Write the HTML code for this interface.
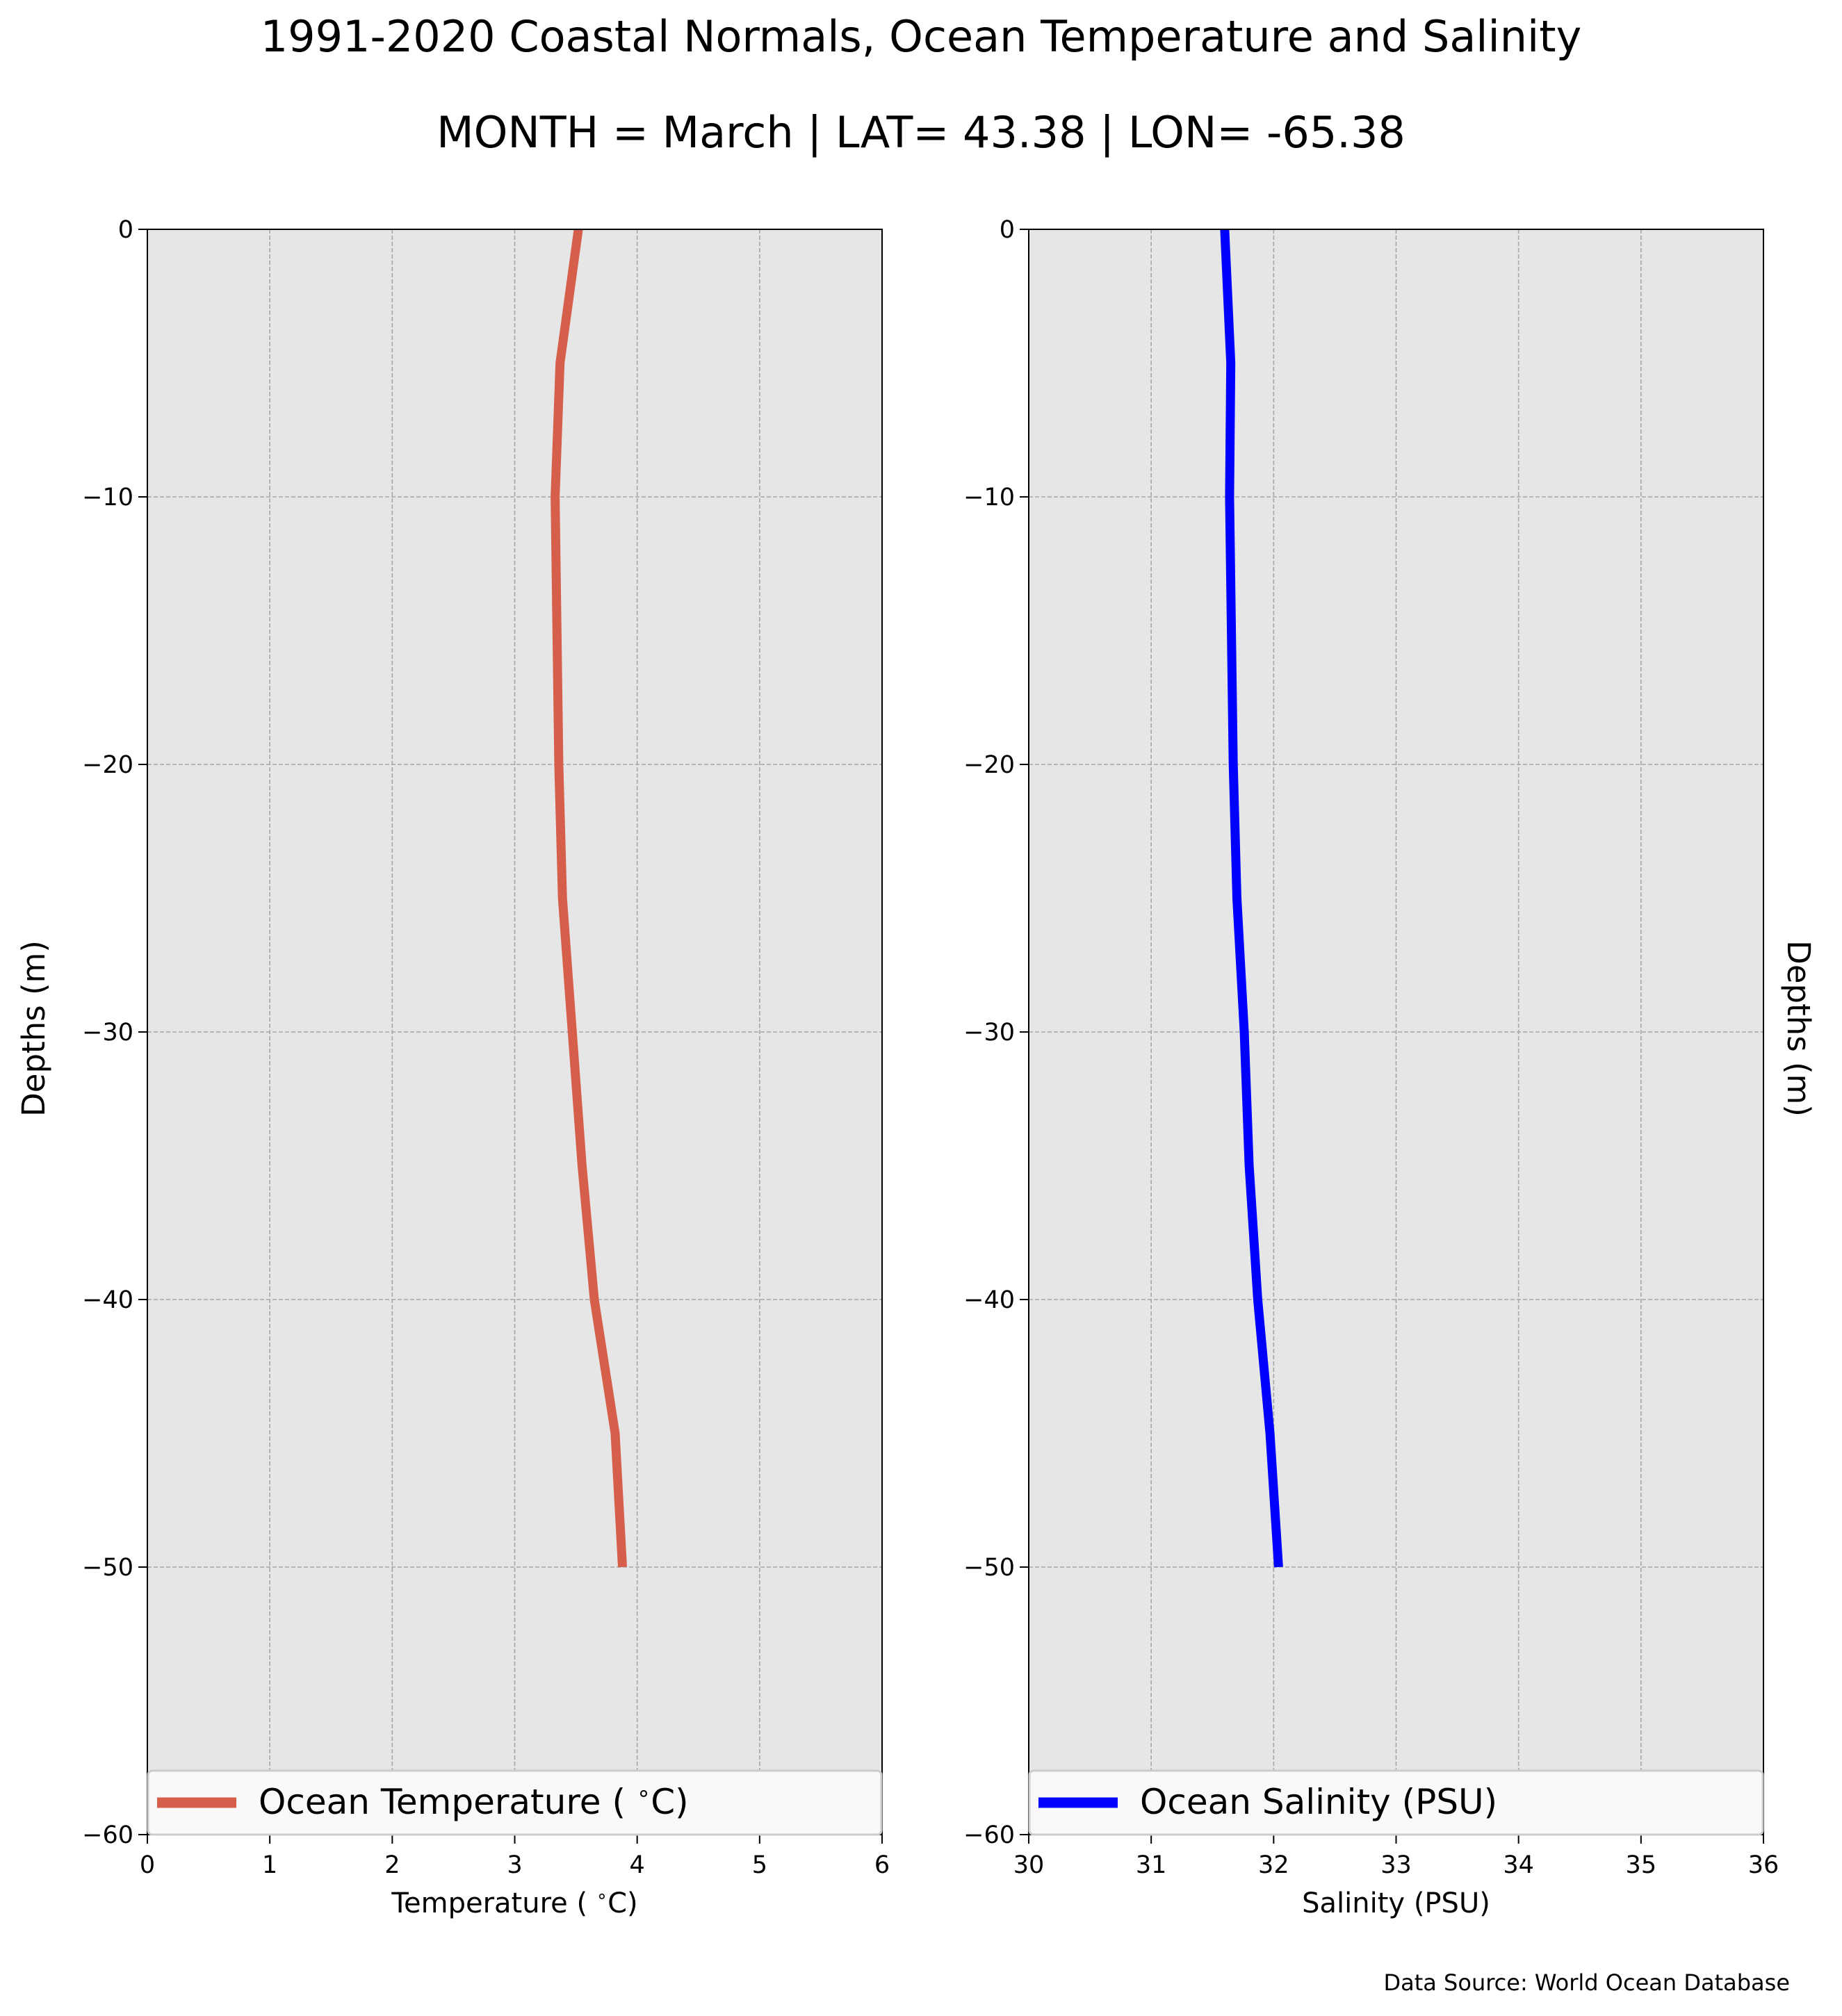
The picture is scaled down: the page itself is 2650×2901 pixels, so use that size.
<!DOCTYPE html>
<html><head><meta charset="utf-8"><style>
html,body{margin:0;padding:0;background:#fff;}
svg{display:block;font-family:"DejaVu Sans","Liberation Sans",sans-serif;}
</style></head><body>
<svg id="fig" width="2650" height="2901" viewBox="0 0 2650 2901" xmlns="http://www.w3.org/2000/svg">
<text x="1325" y="74" font-size="62" text-anchor="middle">1991-2020 Coastal Normals, Ocean Temperature and Salinity</text>
<text x="1325" y="212" font-size="62" text-anchor="middle">MONTH = March | LAT= 43.38 | LON= -65.38</text>
<g id="p1"></g>
<g id="p2"></g>
<text transform="translate(64,1480) rotate(-90)" font-size="45" text-anchor="middle">Depths (m)</text>
<text transform="translate(2572,1480) rotate(90)" font-size="45" text-anchor="middle">Depths (m)</text>
<text x="2575" y="2864" font-size="32" text-anchor="end">Data Source: World Ocean Database</text>
</svg>
<script>
const depths = [0, -5, -10, -20, -25, -30, -35, -40, -45, -50];
const temperature = [3.52, 3.37, 3.33, 3.36, 3.39, 3.47, 3.55, 3.65, 3.82, 3.88];
const salinity = [31.6, 31.65, 31.64, 31.67, 31.70, 31.76, 31.80, 31.87, 31.97, 32.04];
const tempTicks = [0, 1, 2, 3, 4, 5, 6];
const salTicks = [30, 31, 32, 33, 34, 35, 36];
const depthTicks = [0, -10, -20, -30, -40, -50, -60];

const NS = 'http://www.w3.org/2000/svg';
function mk(parent, tag, attrs, text) {
  const e = document.createElementNS(NS, tag);
  for (const k in attrs) e.setAttribute(k, attrs[k]);
  if (text !== undefined) e.textContent = text;
  parent.appendChild(e);
  return e;
}
function degText(parent, attrs, before, after) {
  const t = mk(parent, 'text', attrs);
  t.appendChild(document.createTextNode(before));
  const s = mk(t, 'tspan', {'baseline-shift': 'super', 'font-size': '65%'}, '\u2218');
  t.appendChild(document.createTextNode(after));
  return t;
}
const TOP = 330, BOT = 2640, W = 1057;
function yScale(d) { return TOP + (0 - d) / 60 * (BOT - TOP); }

function panel(g, left, xmin, xmax, xticks, vals, color, legendParts, xlabelParts) {
  const xs = v => left + (v - xmin) / (xmax - xmin) * W;
  const bg = mk(g, 'rect', {x: left, y: TOP, width: W, height: BOT - TOP, fill: '#e6e6e6'});
  
  
  xticks.forEach(t => {
    const x = xs(t);
    const gl = mk(g, 'line', {x1: x, x2: x, y1: TOP, y2: BOT, stroke: '#a6a6a6', 'stroke-width': 1.6, 'stroke-dasharray': '6,3'});
    
    
    const tk = mk(g, 'line', {x1: x, x2: x, y1: BOT, y2: BOT + 13, stroke: '#000', 'stroke-width': 2});
    
    
    const tl = mk(g, 'text', {x: x, y: BOT + 55, 'font-size': 35, 'text-anchor': 'middle'}, String(t));
    
    
  });
  depthTicks.forEach(d => {
    const y = yScale(d);
    const gl = mk(g, 'line', {x1: left, x2: left + W, y1: y, y2: y, stroke: '#a6a6a6', 'stroke-width': 1.6, 'stroke-dasharray': '6,3'});
    
    
    const tk = mk(g, 'line', {x1: left - 13, x2: left, y1: y, y2: y, stroke: '#000', 'stroke-width': 2});
    
    
    const tl = mk(g, 'text', {x: left - 20, y: y + 12, 'font-size': 35, 'text-anchor': 'end'}, d < 0 ? '\u2212' + (-d) : String(d));
    
    
  });
  const pts = vals.map((v, i) => xs(v) + ',' + yScale(depths[i])).join(' ');
  const line = mk(g, 'polyline', {points: pts, fill: 'none', stroke: color, 'stroke-width': 13});
  
  
  const frame = mk(g, 'rect', {x: left, y: TOP, width: W, height: BOT - TOP, fill: 'none', stroke: '#000', 'stroke-width': 2});
  
  
  const lg = mk(g, 'g', {});
  
  
  mk(lg, 'rect', {x: left + 1, y: BOT - 92, width: W - 2, height: 92, rx: 6, fill: '#fafafa', 'fill-opacity': 0.95, stroke: '#cccccc', 'stroke-width': 3});
  const sw = mk(lg, 'line', {x1: left + 14, x2: left + 128, y1: BOT - 46, y2: BOT - 46, stroke: color, 'stroke-width': 15});
  
  
  let lt;
  if (legendParts.length === 2) lt = degText(lg, {x: left + 160, y: BOT - 30, 'font-size': 50}, legendParts[0], legendParts[1]);
  else lt = mk(lg, 'text', {x: left + 160, y: BOT - 30, 'font-size': 50}, legendParts[0]);
  
  
  let xl;
  const xa = {x: left + W / 2, y: BOT + 112, 'font-size': 40, 'text-anchor': 'middle'};
  if (xlabelParts.length === 2) xl = degText(g, xa, xlabelParts[0], xlabelParts[1]);
  else xl = mk(g, 'text', xa, xlabelParts[0]);
  
  
}
panel(document.getElementById('p1'), 212, 0, 6, tempTicks, temperature, '#d65f4b', ['Ocean Temperature ( ', 'C)'], ['Temperature ( ', 'C)']);
panel(document.getElementById('p2'), 1480, 30, 36, salTicks, salinity, '#0000ff', ['Ocean Salinity (PSU)'], ['Salinity (PSU)']);
</script>
</body></html>
